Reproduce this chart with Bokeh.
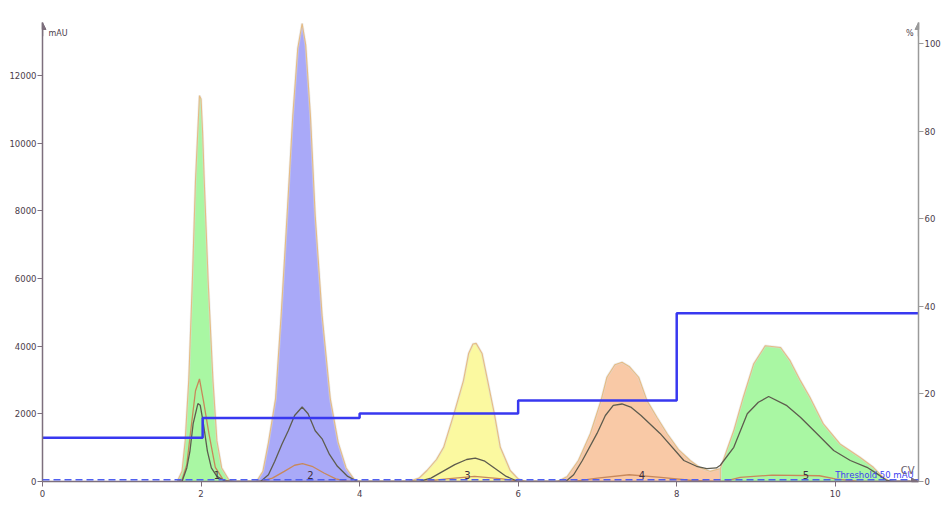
from bokeh.plotting import figure
from bokeh.models import Range1d, LinearAxis, FixedTicker, Label, Span, Arrow, NormalHead
from bokeh.embed import file_html
from bokeh.resources import INLINE

# ---- data ----
# retention volume (CV) and absorbance (mAU) of each filled peak
peak1_t = [1.70, 1.76, 1.80, 1.845, 1.89, 1.93, 1.98, 2.00, 2.02, 2.04, 2.09, 2.15, 2.20, 2.26, 2.35, 2.42]
peak1_mau = [0, 300, 1200, 3000, 5900, 8900, 11400, 11300, 10300, 8900, 5900, 3000, 1200, 400, 50, 0]

peak2_t = [2.70, 2.78, 2.85, 2.94, 3.01, 3.085, 3.157, 3.22, 3.275, 3.32, 3.38, 3.44, 3.527, 3.63, 3.73, 3.83, 3.95]
peak2_mau = [0, 300, 1150, 2450, 4900, 7850, 10800, 12800, 13530, 12900, 10800, 7850, 4900, 2450, 1150, 400, 0]

peak3_t = [4.62, 4.75, 4.85, 4.97, 5.06, 5.19, 5.31, 5.375, 5.43, 5.47, 5.545, 5.615, 5.70, 5.775, 5.90, 6.00, 6.08]
peak3_mau = [0, 100, 325, 650, 1010, 2000, 2980, 3780, 4060, 4080, 3780, 2980, 2000, 1010, 325, 80, 0]

peak4_t = [6.50, 6.62, 6.76, 6.91, 7.045, 7.12, 7.22, 7.31, 7.40, 7.52, 7.625, 7.75, 7.88, 8.02, 8.17, 8.30, 8.42, 8.55, 8.55]
peak4_mau = [0, 150, 620, 1410, 2390, 3080, 3450, 3520, 3400, 3080, 2390, 1900, 1410, 950, 620, 400, 300, 380, 0]

peak5_t = [8.55, 8.55, 8.72, 8.84, 8.97, 9.117, 9.31, 9.43, 9.56, 9.68, 9.85, 10.06, 10.31, 10.48, 10.60, 10.69]
peak5_mau = [0, 380, 1505, 2490, 3470, 4010, 3960, 3570, 2980, 2490, 1700, 1110, 715, 420, 130, 0]

peak_fills = ["#a9f7a3", "#a9a9f8", "#fbf9a0", "#f9c9a6", "#a9f7a3"]

# second wavelength trace (dark line)
dark_t = [1.70, 1.76, 1.82, 1.86, 1.90, 1.96, 1.99, 2.03, 2.08, 2.13, 2.20, 2.30, 2.40,
          2.75, 2.85, 2.93, 3.02, 3.10, 3.18, 3.275, 3.35, 3.44, 3.53, 3.62, 3.72, 3.85, 3.98,
          4.75, 4.90, 5.05, 5.20, 5.35, 5.46, 5.58, 5.70, 5.85, 6.00,
          6.60, 6.70, 6.81, 6.995, 7.10, 7.20, 7.31, 7.42, 7.55, 7.79, 8.09, 8.25, 8.38, 8.50, 8.55,
          8.72, 8.89, 9.03, 9.16, 9.39, 9.56, 9.77, 9.98, 10.19, 10.40, 10.53, 10.65, 10.75, 10.95]
dark_mau = [0, 0, 400, 900, 1700, 2300, 2250, 1700, 900, 400, 150, 20, 0,
            0, 200, 600, 1100, 1500, 1950, 2200, 2000, 1500, 1250, 800, 450, 150, 0,
            0, 100, 300, 500, 650, 690, 600, 400, 150, 0,
            0, 200, 620, 1420, 1950, 2250, 2290, 2200, 1950, 1420, 620, 450, 380, 400, 480,
            1010, 2000, 2340, 2510, 2240, 1900, 1410, 915, 620, 420, 225, 30, 0, 0]

# third wavelength trace (orange line)
orange_t = [1.70, 1.76, 1.82, 1.87, 1.93, 1.98, 2.03, 2.10, 2.18, 2.28, 2.36,
            2.75, 2.90, 3.05, 3.18, 3.28, 3.40, 3.55, 3.70, 3.85,
            4.80, 5.10, 5.45, 5.80, 6.05,
            6.70, 7.00, 7.40, 7.80, 8.20, 8.50,
            8.60, 8.80, 9.20, 9.80, 10.00, 10.30, 10.95]
orange_mau = [0, 50, 500, 1500, 2680, 3030, 2390, 1410, 420, 50, 0,
              0, 100, 300, 480, 530, 450, 250, 80, 0,
              0, 80, 150, 80, 0,
              0, 100, 200, 120, 30, 0,
              0, 120, 190, 170, 80, 0, 0]

# gradient concentration (%B), step changes
grad_t = [0, 2.02, 4.0, 6.0, 8.0, 11.05]
grad_pct = [10, 14.5, 15.5, 18.5, 38.4, 38.4]

threshold_mau = 50

peak_label_t = [2.20, 3.38, 5.36, 7.56, 9.63]
peak_label_text = ["1", "2", "3", "4", "5"]

x_ticks = [0, 2, 4, 6, 8, 10]
y_ticks = [0, 2000, 4000, 6000, 8000, 10000, 12000]
pct_ticks = [0, 20, 40, 60, 80, 100]

X_MAX = 11.05
Y_MAX = 13560
PCT_MAX = 104.8

# ---- figure ----
p = figure(width=943, height=507, output_backend="svg", toolbar_location=None,
           x_range=Range1d(0, X_MAX), y_range=Range1d(0, Y_MAX),
           min_border_left=42, min_border_right=25, min_border_top=22, min_border_bottom=26)
p.extra_y_ranges = {"pct": Range1d(0, PCT_MAX)}
p.grid.visible = False
p.outline_line_color = None
p.background_fill_color = "white"
p.border_fill_color = "white"

axis_color = "#7d6f7d"
label_color = "#4a3c4a"
font = "DejaVu Sans"

for ax in (p.xaxis[0], p.yaxis[0]):
    ax.axis_line_color = axis_color
    ax.axis_line_width = 1.5
    ax.major_tick_line_color = axis_color
    ax.minor_tick_line_color = None
    ax.major_label_text_color = label_color
    ax.major_label_text_font = font
    ax.major_label_text_font_size = "8.5px"
    ax.major_tick_in = 0

p.xaxis.ticker = FixedTicker(ticks=x_ticks)
p.xaxis.major_tick_out = 5
p.xaxis.major_label_standoff = 3
p.yaxis.ticker = FixedTicker(ticks=y_ticks)
p.yaxis.major_tick_out = 5
p.yaxis.major_label_standoff = 1

raxis = LinearAxis(y_range_name="pct", ticker=FixedTicker(ticks=pct_ticks))
raxis.axis_line_color = "#9a9a9a"
raxis.axis_line_width = 1.5
raxis.major_tick_line_color = "#9a9a9a"
raxis.minor_tick_line_color = None
raxis.major_tick_in = 0
raxis.major_tick_out = 5
raxis.major_label_standoff = 1
raxis.major_label_text_color = label_color
raxis.major_label_text_font = font
raxis.major_label_text_font_size = "8.5px"
p.add_layout(raxis, "right")

# ---- peaks ----
peaks = [(peak1_t, peak1_mau), (peak2_t, peak2_mau), (peak3_t, peak3_mau),
         (peak4_t, peak4_mau), (peak5_t, peak5_mau)]
for (t, m), c in zip(peaks, peak_fills):
    p.varea(x=t, y1=[0] * len(t), y2=m, fill_color=c)
for (t, m), c in zip(peaks, peak_fills):
    p.line(t, m, line_color="#dcdcdc", line_width=2.5, line_alpha=0.5)
    p.line(t, m, line_color="#e6bc84", line_width=1.1)

p.add_layout(Span(location=threshold_mau, dimension="width", line_color="#5060f0",
                  line_width=1.6, line_dash="7 4"))

p.line(orange_t, orange_mau, line_color="#c8885a", line_width=1.3)
p.line(dark_t, dark_mau, line_color="#5e5c4e", line_width=1.3)

p.step(grad_t, grad_pct, mode="after", y_range_name="pct", line_color="#3838f0", line_width=2.5)

# ---- texts ----
for t, s in zip(peak_label_t, peak_label_text):
    p.add_layout(Label(x=t, y=threshold_mau, text=s, text_font=font, text_font_size="10px",
                       text_color="#3e3040", text_align="center", text_baseline="bottom",
                       y_offset=1))

p.add_layout(Label(x=10.0, y=threshold_mau, text="Threshold 50 mAU", text_font=font,
                   text_font_size="8.5px", text_color="#4040f0", text_align="left",
                   text_baseline="bottom", y_offset=0))
p.add_layout(Label(x=X_MAX, y=threshold_mau, text="CV", text_font=font,
                   text_font_size="10px", text_color="#6a606a", text_align="right",
                   text_baseline="bottom", x_offset=-4, y_offset=4))
p.add_layout(Label(x=0, y=Y_MAX, text="mAU", text_font=font, text_font_size="8px",
                   text_color=label_color, text_align="left", text_baseline="top",
                   x_offset=6, y_offset=-6))
p.add_layout(Label(x=X_MAX, y=Y_MAX, text="%", text_font=font, text_font_size="8px",
                   text_color=label_color, text_align="right", text_baseline="top",
                   x_offset=-5, y_offset=-6))

# axis arrow heads
p.add_layout(Arrow(end=NormalHead(size=7, fill_color=axis_color, line_color=axis_color),
                   x_start=0, y_start=Y_MAX * 0.97, x_end=0, y_end=Y_MAX,
                   line_color=axis_color, line_width=1.5))
p.add_layout(Arrow(end=NormalHead(size=7, fill_color="#9a9a9a", line_color="#9a9a9a"),
                   x_start=X_MAX, y_start=Y_MAX * 0.97, x_end=X_MAX, y_end=Y_MAX,
                   line_color="#9a9a9a", line_width=1.5))
p.add_layout(Arrow(end=NormalHead(size=7, fill_color=axis_color, line_color=axis_color),
                   x_start=X_MAX * 0.97, y_start=0, x_end=X_MAX, y_end=0,
                   line_color=axis_color, line_width=1.5))

open("out.html", "w").write(file_html(p, INLINE))
